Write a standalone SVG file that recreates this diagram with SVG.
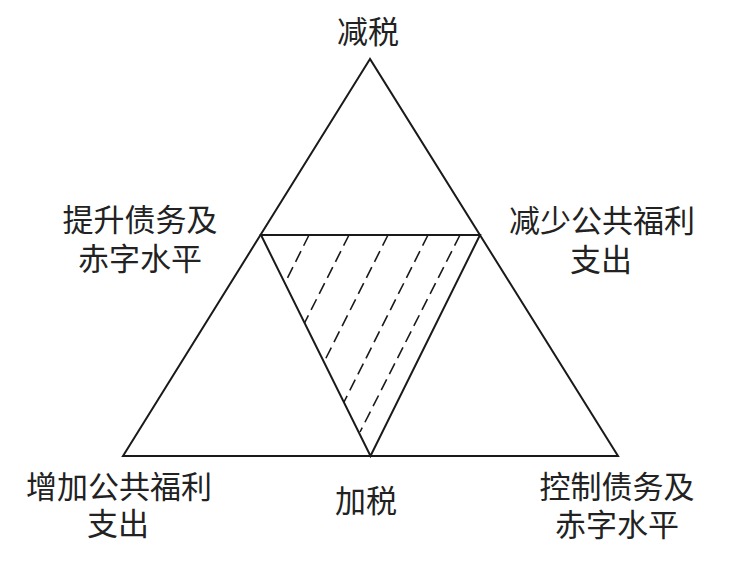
<svg xmlns="http://www.w3.org/2000/svg" width="730" height="567" viewBox="0 0 730 567">
<style>
.edge{fill:none;stroke:#1a1a1a;stroke-width:2;stroke-linejoin:miter}
.hatch{fill:none;stroke:#1a1a1a;stroke-width:1.6;stroke-dasharray:12 6}
text{font-family:"Noto Sans CJK SC","Noto Sans CJK TC",sans-serif;font-size:31px;fill:#222;text-anchor:middle}
</style>
<rect width="730" height="567" fill="#fff"/>
<g id="connectors">
<polygon class="edge" points="370,59 123,456 618,456"/>
<polygon class="edge" points="261,235 480,235 370.5,456"/>
<g id="hatching">
<line class="hatch" x1="309" y1="235" x2="285" y2="283"/>
<line class="hatch" x1="349" y1="235" x2="304.5" y2="323"/>
<line class="hatch" x1="388" y1="235" x2="324" y2="362"/>
<line class="hatch" x1="428" y1="235" x2="344" y2="402"/>
<line class="hatch" x1="460" y1="235" x2="360" y2="432"/>
</g>
</g>
<g id="node-top"><text x="368" y="43">减税</text></g>
<g id="node-left-mid"><text x="140" y="231">提升债务及</text><text x="140" y="270">赤字水平</text></g>
<g id="node-right-mid"><text x="602" y="232">减少公共福利</text><text x="601" y="271">支出</text></g>
<g id="node-bottom-left"><text x="119" y="498">增加公共福利</text><text x="118" y="535">支出</text></g>
<g id="node-bottom-mid"><text x="366" y="512">加税</text></g>
<g id="node-bottom-right"><text x="617" y="498">控制债务及</text><text x="617" y="536">赤字水平</text></g>
</svg>
